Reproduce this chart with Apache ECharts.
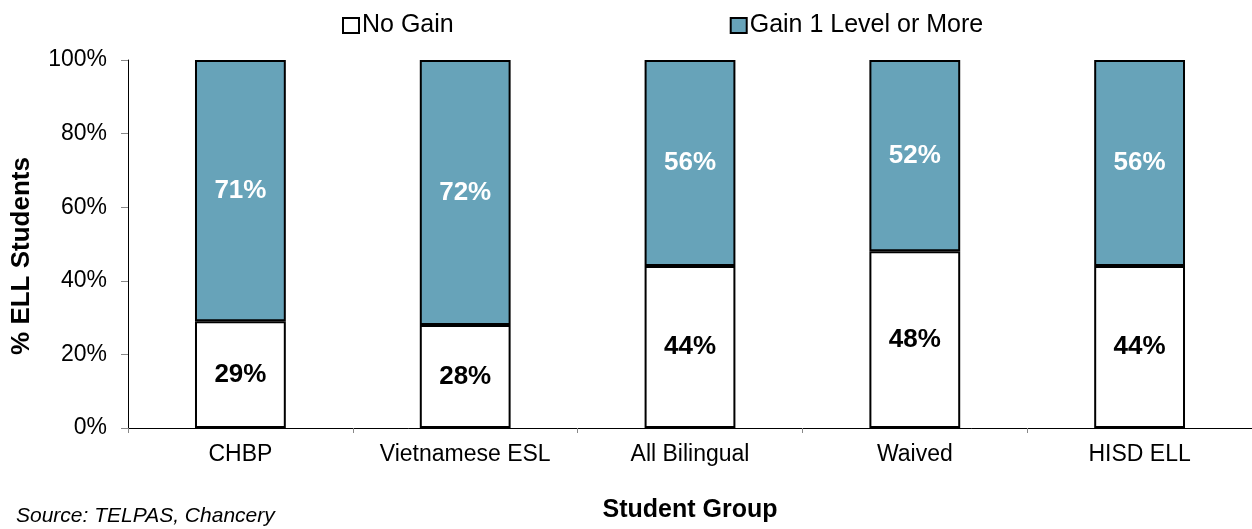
<!DOCTYPE html>
<html><head><meta charset="utf-8">
<script src="https://cdn.jsdelivr.net/npm/echarts@6/dist/echarts.min.js"></script>
<style>html,body{margin:0;padding:0;background:#fff}#c{width:1252px;height:529px}</style>
</head><body><div id="c"></div>
<script>
const categories = ['CHBP', 'Vietnamese ESL', 'All Bilingual', 'Waived', 'HISD ELL'];
const noGain = [29, 28, 44, 48, 44];
const gainOne = [71, 72, 56, 52, 56];
const yTicks = [0, 20, 40, 60, 80, 100];

const font = '"Liberation Sans", Arial, sans-serif';
const chart = echarts.init(document.getElementById('c'));
chart.setOption({
  animation: false,
  textStyle: { fontFamily: font },
  legend: {
    top: 8, left: 337, itemGap: 276, itemWidth: 16, itemHeight: 15,
    icon: 'rect',
    textStyle: { fontSize: 25, color: '#000', fontFamily: font, padding: [0, 0, 0, -2] },
    data: ['No Gain', 'Gain 1 Level or More']
  },
  grid: { left: 128, right: 0, top: 60, bottom: 101 },
  xAxis: {
    type: 'category', data: categories,
    axisLine: { lineStyle: { color: '#000', width: 1 } },
    axisTick: { show: true, alignWithLabel: false, length: 5, lineStyle: { color: '#888' } },
    axisLabel: { fontSize: 23, color: '#000', margin: 15, fontFamily: font },
    name: 'Student Group', nameLocation: 'middle', nameGap: 70,
    nameTextStyle: { fontSize: 25, fontWeight: 'bold', color: '#000', fontFamily: font }
  },
  yAxis: {
    type: 'value', min: 0, max: 100, interval: 20,
    axisLine: { show: true, lineStyle: { color: '#000', width: 1 } },
    axisTick: { show: true, length: 7, lineStyle: { color: '#888' } },
    splitLine: { show: false },
    axisLabel: { fontSize: 23, color: '#000', margin: 21, fontFamily: font,
      formatter: v => yTicks.includes(v) ? v + '%' : '' }
  },
  series: [
    {
      name: 'No Gain', type: 'bar', stack: 's', data: noGain, barWidth: '40.4%',
      itemStyle: { color: '#ffffff', borderColor: '#000', borderWidth: 2 },
      label: { show: true, position: 'inside', formatter: '{c}%', fontSize: 26, fontWeight: 'bold', color: '#000', fontFamily: font }
    },
    {
      name: 'Gain 1 Level or More', type: 'bar', stack: 's', data: gainOne, barWidth: '40.4%',
      itemStyle: { color: '#67a3b9', borderColor: '#000', borderWidth: 2 },
      label: { show: true, position: 'inside', formatter: '{c}%', fontSize: 26, fontWeight: 'bold', color: '#fff', fontFamily: font }
    }
  ],
  graphic: [
    {
      type: 'text', x: 22, y: 256, rotation: Math.PI / 2,
      style: { text: '% ELL Students', fontSize: 26, fontWeight: 'bold', fill: '#000', fontFamily: font, align: 'center', verticalAlign: 'middle' }
    },
    {
      type: 'text', left: 16, top: 506,
      style: { text: 'Source: TELPAS, Chancery', fontSize: 21, fontStyle: 'italic', fill: '#000', fontFamily: font }
    }
  ]
});
</script></body></html>
